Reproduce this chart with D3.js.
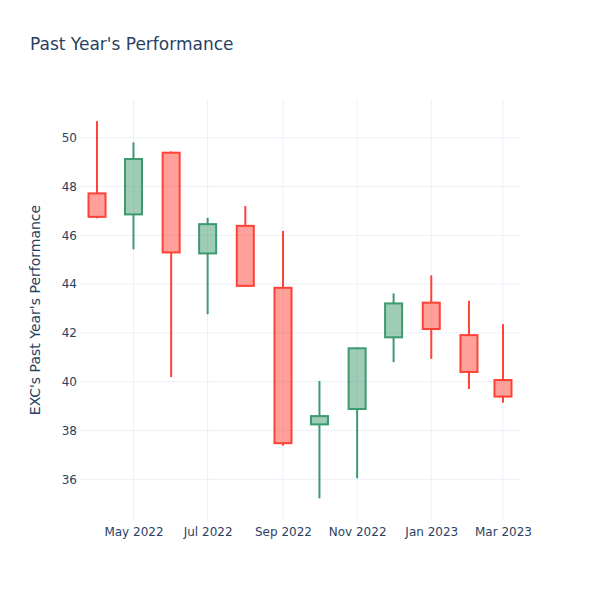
<!DOCTYPE html>
<html><head><meta charset="utf-8">
<script src="https://cdn.jsdelivr.net/npm/d3@7"></script>
<style>body{margin:0;background:#fff}svg{display:block}</style>
</head><body>
<svg id="chart" width="600" height="600"></svg>
<script>
const dates = ["2022-04-01","2022-05-01","2022-06-01","2022-07-01","2022-08-01","2022-09-01","2022-10-01","2022-11-01","2022-12-01","2023-01-01","2023-02-01","2023-03-01"];
const openV  = [47.72, 46.86, 49.39, 45.26, 46.39, 43.85, 38.25, 38.88, 41.82, 43.24, 41.91, 40.07];
const highV  = [50.68, 49.81, 49.44, 46.72, 47.20, 46.18, 40.03, 41.40, 43.62, 44.36, 43.32, 42.36];
const lowV   = [46.70, 45.43, 40.19, 42.77, 43.90, 37.38, 35.22, 36.04, 40.80, 40.94, 39.70, 39.14];
const closeV = [46.76, 49.13, 45.30, 46.46, 43.93, 37.48, 38.59, 41.37, 43.21, 42.16, 40.40, 39.39];
const yTicks = [36, 38, 40, 42, 44, 46, 48, 50];
const xTickDates = ["2022-05-01","2022-07-01","2022-09-01","2022-11-01","2023-01-01","2023-03-01"];
const xTickLabels = ["May 2022","Jul 2022","Sep 2022","Nov 2022","Jan 2023","Mar 2023"];

const parse = d3.utcParse("%Y-%m-%d");
const svg = d3.select("#chart");
const M = {l:80, r:520, t:100, b:520};
const font = "'DejaVu Sans', Verdana, sans-serif";
const txt = "#2a3f5f";

const x = d3.scaleUtc().domain([parse("2022-03-18"), parse("2023-03-15")]).range([M.l, M.r]);
const y = d3.scaleLinear().domain([34.33, 51.55]).range([M.b, M.t]);

// grid
const g = svg.append("g");
g.selectAll("line.h").data(yTicks).join("line")
  .attr("x1", M.l).attr("x2", M.r)
  .attr("y1", d => y(d)).attr("y2", d => y(d))
  .attr("stroke", "#EBF0F8").attr("stroke-width", 1);
g.selectAll("line.v").data(xTickDates).join("line")
  .attr("y1", M.t).attr("y2", M.b)
  .attr("x1", d => x(parse(d))).attr("x2", d => x(parse(d)))
  .attr("stroke", "#EBF0F8").attr("stroke-width", 1);

// axes labels
const yAxis = d3.axisLeft(y).tickValues(yTicks).tickSize(0).tickPadding(3);
svg.append("g").attr("transform", `translate(${M.l - 0},0)`).call(yAxis)
  .call(s => s.select(".domain").remove())
  .call(s => s.selectAll("text").attr("font-family", font).attr("font-size", 12).attr("fill", txt));

const xAxis = d3.axisBottom(x).tickValues(xTickDates.map(parse)).tickFormat((d,i) => xTickLabels[i]).tickSize(0).tickPadding(7);
svg.append("g").attr("transform", `translate(0,${M.b})`).call(xAxis)
  .call(s => s.select(".domain").remove())
  .call(s => s.selectAll("text").attr("font-family", font).attr("font-size", 12).attr("fill", txt));

// candles
const data = dates.map((d,i) => ({d: parse(d), o: openV[i], h: highV[i], l: lowV[i], c: closeV[i]}));
const halfW = 7; // days
const cg = svg.append("g");
data.forEach(p => {
  const inc = p.c >= p.o;
  const line = inc ? "#3D9970" : "#FF4136";
  const fill = inc ? "rgba(61,153,112,0.5)" : "rgba(255,65,54,0.5)";
  const cx = x(p.d);
  const top = Math.max(p.o, p.c), bot = Math.min(p.o, p.c);
  const x0 = x(d3.utcDay.offset(p.d, -halfW)), x1 = x(d3.utcDay.offset(p.d, halfW));
  cg.append("line").attr("x1", cx).attr("x2", cx).attr("y1", y(p.h)).attr("y2", y(top))
    .attr("stroke", line).attr("stroke-width", 2);
  cg.append("line").attr("x1", cx).attr("x2", cx).attr("y1", y(bot)).attr("y2", y(p.l))
    .attr("stroke", line).attr("stroke-width", 2);
  cg.append("rect").attr("x", x0).attr("width", x1 - x0)
    .attr("y", y(top)).attr("height", Math.max(0.5, y(bot) - y(top)))
    .attr("fill", fill).attr("stroke", line).attr("stroke-width", 2);
});

// titles
svg.append("text").attr("x", 30).attr("y", 50).attr("font-family", font).attr("font-size", 17)
  .attr("fill", txt).text("Past Year's Performance");
svg.append("text").attr("transform", `translate(40,${(M.t + M.b)/2}) rotate(-90)`)
  .attr("text-anchor", "middle").attr("font-family", font).attr("font-size", 14)
  .attr("fill", txt).text("EXC's Past Year's Performance");
</script>
</body></html>
